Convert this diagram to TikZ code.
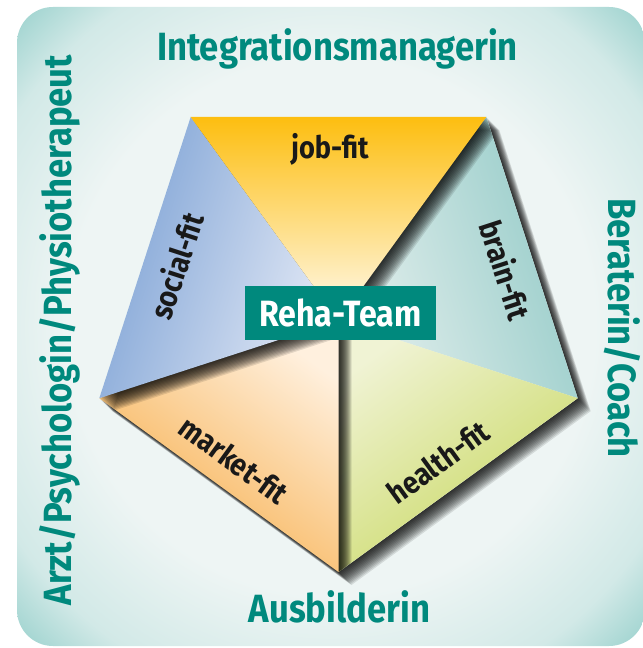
\documentclass[tikz,border=0pt]{standalone}
\usepackage{fontspec}
\setmainfont{Fira Sans}[FakeStretch=0.88]
\usetikzlibrary{calc}

\definecolor{rehateal}{RGB}{0,137,125}
\definecolor{glowin}{RGB}{238,245,244}
\definecolor{glowout}{RGB}{158,211,207}
\colorlet{glowmid}{glowout!35!glowin}
\definecolor{fitblack}{RGB}{25,25,25}
\definecolor{jobout}{RGB}{253,190,16}
\definecolor{jobmid}{RGB}{254,220,135}
\definecolor{jobin}{RGB}{255,250,238}
\definecolor{socialout}{RGB}{125,162,213}
\definecolor{socialin}{RGB}{228,234,246}
\definecolor{marketout}{RGB}{246,172,70}
\definecolor{marketin}{RGB}{255,240,222}
\definecolor{healthout}{RGB}{200,216,96}
\definecolor{healthin}{RGB}{240,243,212}
\definecolor{brainout}{RGB}{148,203,200}
\definecolor{brainin}{RGB}{230,240,238}

\pgfdeclareradialshading{roomglow}{\pgfpoint{0bp}{0bp}}{color(0bp)=(glowin); color(21bp)=(glowin); color(30bp)=(glowmid); color(35bp)=(glowout); color(50bp)=(glowout)}

\begin{document}
\begin{tikzpicture}[x=0.025cm, y=-0.025cm,
    sidelabel/.style={text=rehateal, inner sep=0pt, font=\fontsize{28}{30}\selectfont\bfseries},
    fitlabel/.style={text=fitblack, inner sep=0pt, font=\fontsize{22}{24}\selectfont\bfseries},
    teambox/.style={fill=rehateal, text=white, inner sep=0pt, minimum width=4.78cm, minimum height=1.35cm, font=\fontsize{26}{28}\selectfont\bfseries},
    shadowlayer/.style={fill=black, opacity=0.11}]
    \useasboundingbox (0,0) rectangle (642,648);
    \shade[shading=roomglow, rounded corners=0.9cm] (17,7) rectangle (645,646);

    % corners of the pentagon
    \coordinate (tl) at (190.7,117);
    \coordinate (tr) at (486.3,117);
    \coordinate (rt) at (577.7,398.2);
    \coordinate (bt) at (338.5,572);
    \coordinate (lt) at (99.3,398.2);
    \coordinate (ct) at (338.5,320.5);

    % drop shadow of the whole pentagon
    \foreach \k in {1,...,13}
        \fill[shadowlayer] ($(tl)+(\k,\k)$) -- ($(tr)+(\k,\k)$) -- ($(rt)+(\k,\k)$) -- ($(bt)+(\k,\k)$) -- ($(lt)+(\k,\k)$) -- cycle;
    \fill[glowin] (tl) -- (tr) -- (rt) -- (bt) -- (lt) -- cycle;

    \begin{scope}
        \clip (tl) -- (tr) -- (rt) -- (bt) -- (lt) -- cycle;
        \shade[top color=brainout, bottom color=brainin, shading angle=-72] (tr) -- (rt) -- (ct) -- cycle;
        \shade[top color=healthout, bottom color=healthin, shading angle=-144] (rt) -- (bt) -- (ct) -- cycle;
        \foreach \k in {1,...,13}
            \fill[shadowlayer] ($(bt)+(\k,\k)$) -- ($(lt)+(\k,\k)$) -- ($(ct)+(\k,\k)$) -- cycle;
        \shade[top color=marketout, bottom color=marketin, shading angle=144] (bt) -- (lt) -- (ct) -- cycle;
        \foreach \k in {1,...,13}
            \fill[shadowlayer] ($(lt)+(\k,\k)$) -- ($(tl)+(\k,\k)$) -- ($(ct)+(\k,\k)$) -- cycle;
        \shade[top color=socialout, bottom color=socialin, shading angle=72] (lt) -- (tl) -- (ct) -- cycle;
        \foreach \k in {1,...,13}
            \fill[shadowlayer] ($(tl)+(\k,\k)$) -- ($(tr)+(\k,\k)$) -- ($(ct)+(\k,\k)$) -- cycle;
        \shade[top color=jobout, middle color=jobmid, bottom color=jobin] (tl) -- (tr) -- (ct) -- cycle;
    \end{scope}

    \node[fitlabel] (job) at (330,149) {job-fit};
    \node[fitlabel, rotate=-72] (brain) at (506,270) {brain-fit};
    \node[fitlabel, rotate=36] (health) at (438,462) {health-fit};
    \node[fitlabel, rotate=-36] (market) at (234,460) {market-fit};
    \node[fitlabel, rotate=72] (social) at (176,266) {social-fit};

    \node[teambox] (team) at (340.5,313) {Reha-Team};

    \node[sidelabel, anchor=base] (integ) at (337.5,61) {Integrationsmanagerin};
    \node[sidelabel, anchor=base] (ausb) at (339.5,622) {Ausbilderin};
    \node[sidelabel, anchor=base, rotate=90] (arzt) at (71,330) {Arzt/Psychologin/Physiotherapeut};
    \node[sidelabel, anchor=base, rotate=-90] (berat) at (608,328) {Beraterin/Coach};
\end{tikzpicture}
\end{document}
